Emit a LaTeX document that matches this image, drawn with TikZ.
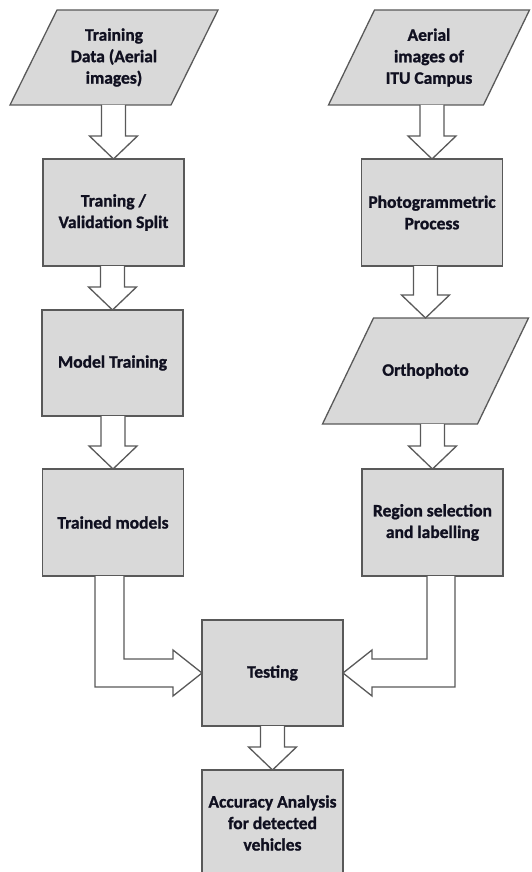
\documentclass[tikz,border=0pt]{standalone}
\usepackage{fontspec}
\setmainfont{Carlito}[BoldFeatures={FakeBold=1.2}]
\usetikzlibrary{calc}
\definecolor{boxfill}{HTML}{D9D9D9}
\definecolor{boxline}{HTML}{595959}
\definecolor{txt}{HTML}{101020}
\pgfdeclarelayer{bg}
\pgfsetlayers{bg,main}
\tikzset{
  base/.style={line width=1.3pt, inner sep=0pt, outer sep=0pt,
    text=txt, align=center, font=\bfseries\fontsize{17.5}{21.5}\selectfont},
  rbox/.style={base, draw=boxline, fill=boxfill, rectangle, minimum width=141pt, minimum height=107pt},
  paratext/.style={base, rectangle, minimum width=155pt, minimum height=95pt},
  parashape/.style={draw=boxline, line width=1.3pt, fill=boxfill},
  blockarr/.style={draw=boxline, line width=1.3pt, fill=white}
}
% parallelogram around a text node: #1 node name, #2 half slant
\newcommand\paraframe[2]{%
  \begin{pgfonlayer}{bg}
  \draw[parashape] ($(#1.south west)+(-#2,0)$) -- ($(#1.north west)+(#2,0)$)
    -- ($(#1.north east)+(#2,0)$) -- ($(#1.south east)+(-#2,0)$) -- cycle;
  \end{pgfonlayer}}
\newcommand\vconn[2]{%
  \draw[blockarr] let \p1=(#1.south), \p2=(#2.north) in
    (\x2-12pt,\y1) -- (\x2-12pt,\y2+23pt) -- (\x2-24pt,\y2+23pt) -- (\x2,\y2)
    -- (\x2+24pt,\y2+23pt) -- (\x2+12pt,\y2+23pt) -- (\x2+12pt,\y1);}
\begin{document}
\begin{tikzpicture}[x=1pt, y=-1pt]
\useasboundingbox (0,0) rectangle (531,872);
% left column
\node[paratext, minimum width=161pt] (train) at (114,57.5) {Training\\Data (Aerial\\images)};
\paraframe{train}{23.5pt}
\node[rbox] (split) at (113.5,212.5) {Traning /\\Validation Split};
\node[rbox, minimum height=106pt] (model) at (112.5,363) {Model Training};
\node[rbox] (trained) at (113,522.5) {Trained models};
% right column
\node[paratext] (aerial) at (429,57.5) {Aerial\\images of\\ITU Campus};
\paraframe{aerial}{23pt}
\node[rbox] (photo) at (432,212.5) {Photogrammetric\\Process};
\node[paratext, minimum height=106pt] (ortho) at (425.5,371) {Orthophoto};
\paraframe{ortho}{25.5pt}
\node[rbox] (region) at (432.5,522.5) {Region selection\\and labelling};
% bottom
\node[rbox, minimum height=106pt] (testing) at (272.5,673) {Testing};
\node[rbox, minimum height=106pt] (acc) at (272.5,823) {Accuracy Analysis\\for detected\\vehicles};
% straight block arrows
\vconn{train}{split}
\vconn{split}{model}
\vconn{model}{trained}
\vconn{aerial}{photo}
\vconn{photo}{ortho}
\vconn{ortho}{region}
\vconn{testing}{acc}
% elbow block arrows
\draw[blockarr] let \p1=(trained.south), \p2=(testing.west) in
  (\x1-18pt,\y1) -- (\x1-18pt,\y2-14pt) -- (\x2-29pt,\y2-14pt) -- (\x2-29pt,\y2-23pt)
  -- (\x2,\y2) -- (\x2-29pt,\y2+23pt) -- (\x2-29pt,\y2+14pt) -- (\x1+11pt,\y2+14pt) -- (\x1+11pt,\y1);
\draw[blockarr] let \p1=(region.south), \p2=(testing.east) in
  (\x1-5.5pt,\y1) -- (\x1-5.5pt,\y2+14pt) -- (\x2+29pt,\y2+14pt) -- (\x2+29pt,\y2+23pt)
  -- (\x2,\y2) -- (\x2+29pt,\y2-23pt) -- (\x2+29pt,\y2-14pt) -- (\x1+22.5pt,\y2-14pt) -- (\x1+22.5pt,\y1);
\end{tikzpicture}
\end{document}
